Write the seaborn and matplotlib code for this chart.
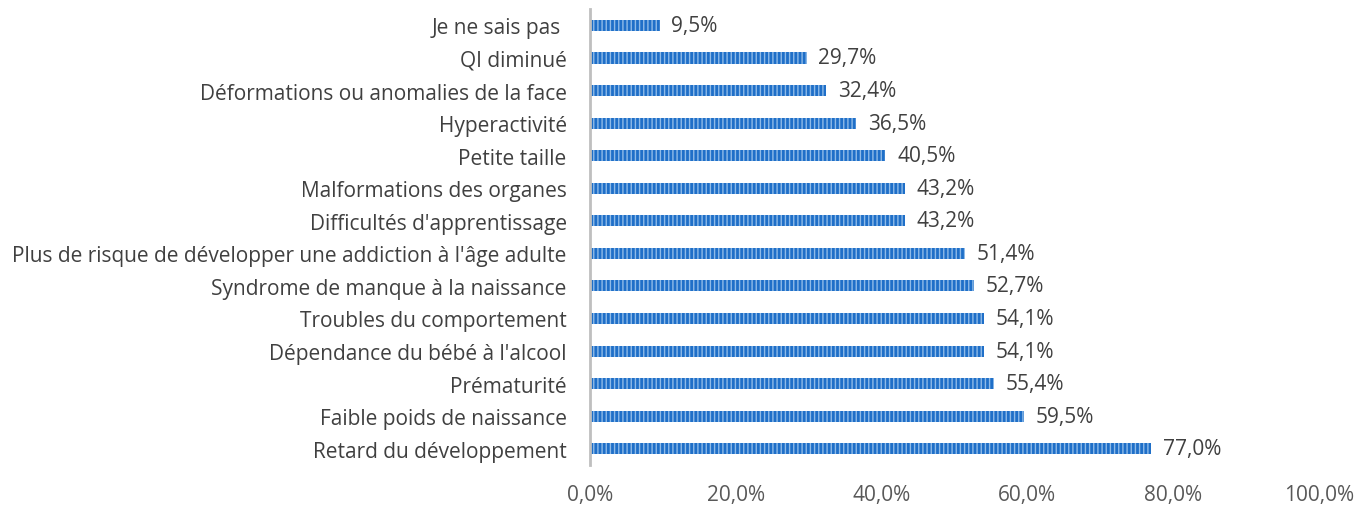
import seaborn as sns
import matplotlib.pyplot as plt
import pandas as pd

# données (du haut vers le bas)
categories = [
    "Je ne sais pas ",
    "QI diminué",
    "Déformations ou anomalies de la face",
    "Hyperactivité",
    "Petite taille",
    "Malformations des organes",
    "Difficultés d'apprentissage",
    "Plus de risque de développer une addiction à l'âge adulte",
    "Syndrome de manque à la naissance",
    "Troubles du comportement",
    "Dépendance du bébé à l'alcool",
    "Prématurité",
    "Faible poids de naissance",
    "Retard du développement",
]
values = [9.5, 29.7, 32.4, 36.5, 40.5, 43.2, 43.2, 51.4, 52.7, 54.1, 54.1, 55.4, 59.5, 77.0]
x_ticks = [0, 20, 40, 60, 80, 100]

df = pd.DataFrame({"cat": categories, "val": values})

sns.set_style("white")
plt.rcParams["font.family"] = ["Open Sans", "DejaVu Sans"]
plt.rcParams["hatch.linewidth"] = 1.0

fig = plt.figure(figsize=(13.54, 5.06), dpi=100)
ax = fig.add_axes([0.436, 0.079, 0.538, 0.901])

sns.barplot(data=df, x="val", y="cat", orient="h", color="#1f6fc8",
            width=0.34, ax=ax, saturation=1)
for p in ax.patches:
    p.set_hatch("||||")
    p.set_edgecolor("#8fbbe8")
    p.set_linewidth(0)

fmt = lambda v: f"{v:.1f}%".replace(".", ",")
for i, v in enumerate(values):
    ax.text(v + 1.6, i, fmt(v), va="center", ha="left",
            fontsize=15, color="#404040")

ax.set_xlim(0, 100)
ax.set_ylim(len(categories) - 0.5, -0.5)
ax.set_xticks(x_ticks)
ax.set_xticklabels([fmt(t) for t in x_ticks], fontsize=15, color="#595959")
ax.tick_params(axis="y", labelsize=15, labelcolor="#404040", length=0, pad=17)
ax.tick_params(axis="x", length=0, pad=14)
ax.set_xlabel("")
ax.set_ylabel("")
for s in ["top", "right", "bottom"]:
    ax.spines[s].set_visible(False)
ax.spines["left"].set_color("#bfbfbf")
ax.spines["left"].set_linewidth(2)

fig.savefig("out.png", dpi=100)
